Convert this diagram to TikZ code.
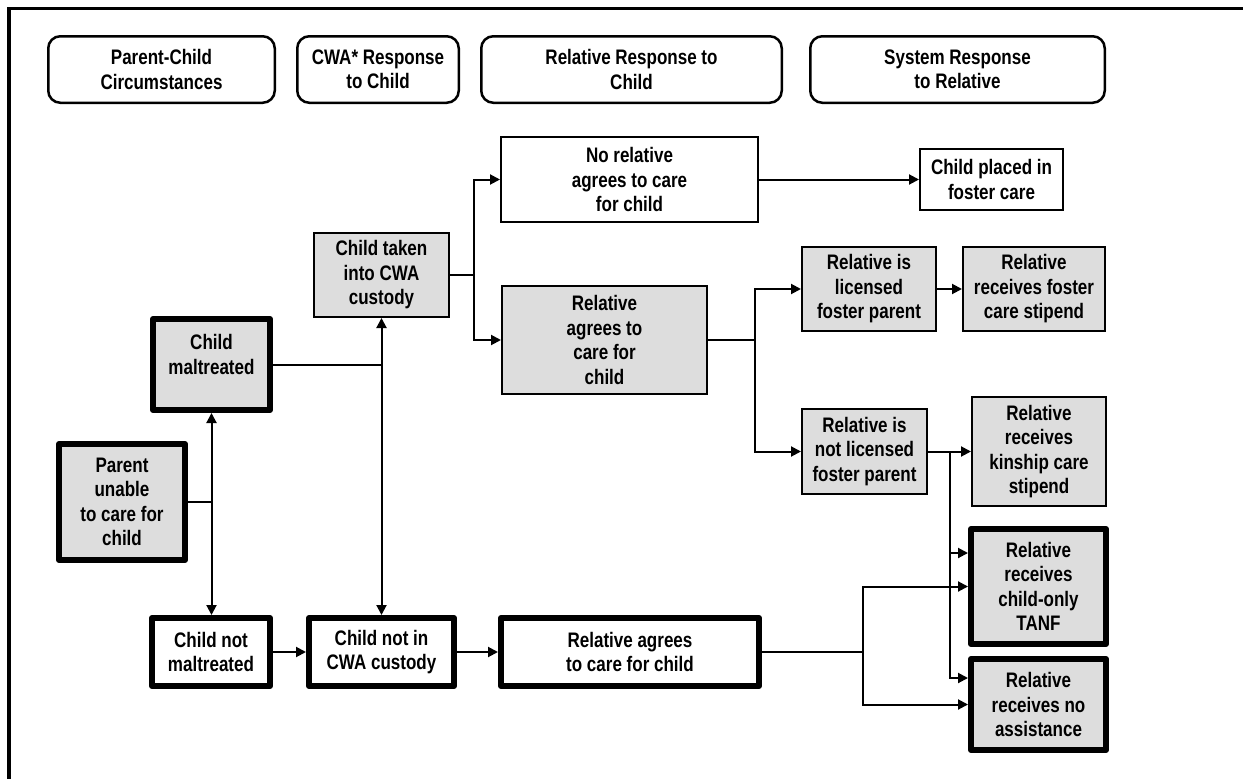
\documentclass[tikz,border=0pt]{standalone}
\usepackage{fontspec}
\setmainfont{Liberation Sans}[FakeStretch=0.81]
\usetikzlibrary{arrows.meta}
\definecolor{boxgray}{RGB}{221,221,221}
\begin{document}
\begin{tikzpicture}[x=1pt,y=-1pt,
  every node/.style={font=\fontsize{21}{24.5}\selectfont\bfseries, align=center, inner sep=0pt},
  head/.style={draw, line width=2.5pt, rounded corners=12pt, minimum height=66.5pt},
  plainbox/.style={draw, line width=2pt, fill=white},
  graybox/.style={draw, line width=2pt, fill=boxgray},
  thickw/.style={draw, line width=6pt, line join=round, fill=white},
  thickg/.style={draw, line width=6pt, line join=round, fill=boxgray},
  conn/.style={line width=2pt},
  arr/.style={conn, -{Triangle[length=10pt,width=10pt]}},
  arrb/.style={conn, {Triangle[length=10pt,width=10pt]}-{Triangle[length=10pt,width=10pt]}}
]
\useasboundingbox (0,0) rectangle (1243,779);
% frame
\draw[line width=3.7pt] (9,779) -- (9,8.5) -- (1243,8.5);

% headers
\node[head, minimum width=226.5pt] (h1) at (161.5,69.5) {Parent-Child\\Circumstances};
\node[head, minimum width=161.5pt] (h2) at (378,69.5) {CWA* Response\\to Child};
\node[head, minimum width=300.5pt] (h3) at (631.5,69.5) {Relative Response to\\Child};
\node[head, minimum width=294.5pt] (h4) at (957.5,69.5) {System Response\\to Relative};

% thin boxes
\node[plainbox, minimum width=257pt, minimum height=85pt] (norel) at (629.5,179.5) {No relative\\agrees to care\\for child};
\node[plainbox, minimum width=143pt, minimum height=61pt] (foster) at (991.5,179.5) {Child placed in\\foster care};
\node[graybox, minimum width=135pt, minimum height=84pt] (custody) at (381.5,275) {Child taken\\into CWA\\custody};
\node[graybox, minimum width=205pt, minimum height=108pt] (relag) at (604.5,340) {Relative\\agrees to\\care for\\child};
\node[graybox, minimum width=134pt, minimum height=84pt] (lic) at (869,289) {Relative is\\licensed\\foster parent};
\node[graybox, minimum width=142pt, minimum height=84pt] (stip) at (1034,289) {Relative\\receives foster\\care stipend};
\node[graybox, minimum width=125pt, minimum height=85pt] (notlic) at (864.5,451.5) {Relative is\\not licensed\\foster parent};
\node[graybox, minimum width=134pt, minimum height=109pt] (kin) at (1039,451.5) {Relative\\receives\\kinship care\\stipend};

% thick boxes
\node[thickg, minimum width=117pt, minimum height=91pt] (mal) at (211.5,364.5) {};
\node (maltxt) at (211.5,354.5) {Child\\maltreated};
\node[thickg, minimum width=126pt, minimum height=116pt] (parent) at (122,502) {Parent\\unable\\to care for\\child};
\node[thickw, minimum width=118pt, minimum height=68pt] (notmal) at (211,652) {Child not\\maltreated};
\node[thickw, minimum width=145pt, minimum height=68pt] (notin) at (381.5,652) {Child not in\\CWA custody};
\node[thickw, minimum width=258pt, minimum height=68pt] (relag2) at (630,652) {Relative agrees\\to care for child};
\node[thickg, minimum width=135pt, minimum height=115pt] (tanf) at (1038.5,586.5) {Relative\\receives\\child-only\\TANF};
\node[thickg, minimum width=135pt, minimum height=91pt] (noas) at (1038.5,704.5) {Relative\\receives no\\assistance};

% connectors
\coordinate (j1) at (parent.east -| mal.south);
\draw[conn] (parent.east) -- (j1);
\draw[arrb] (mal.south) -- (mal.south |- notmal.north);

\coordinate (j2) at (mal.east -| custody.south);
\draw[conn] (mal.east) -- (j2);
\draw[arrb] (custody.south) -- (custody.south |- notin.north);

\coordinate (j3) at (474,275);
\draw[conn] (custody.east) -- (j3);
\draw[arr] (j3) |- (norel.west);
\draw[arr] (j3) |- (relag.west);

\draw[arr] (norel.east) -- (foster.west);

\coordinate (j4) at (755,340);
\draw[conn] (relag.east) -- (j4);
\draw[arr] (j4) |- (lic.west);
\draw[arr] (j4) |- (notlic.west);

\draw[arr] (lic.east) -- (stip.west);
\draw[arr] (notlic.east) -- (kin.west);

\coordinate (j5) at (950,451.5);
\draw[arr] (j5) |- ([yshift=33.5pt]tanf.west);
\draw[arr] (j5) |- ([yshift=26.5pt]noas.west);

\draw[arr] (notmal.east) -- (notin.west);
\draw[arr] (notin.east) -- (relag2.west);

\coordinate (j6) at (863,652);
\draw[conn] (relag2.east) -- (j6);
\draw[arr] (j6) |- (tanf.west);
\draw[arr] (j6) |- (noas.west);
\end{tikzpicture}
\end{document}
